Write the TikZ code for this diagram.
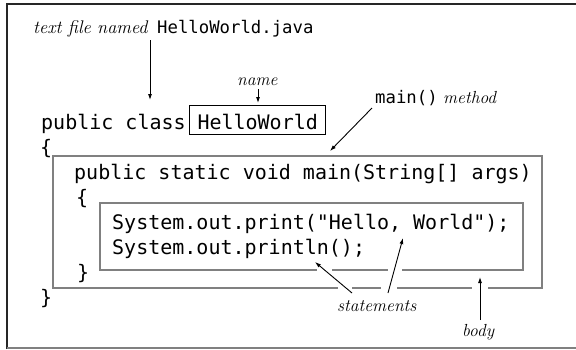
\documentclass[tikz,border=0pt]{standalone}
\usepackage{fontspec}
\setmonofont{DejaVu Sans Mono}
\usetikzlibrary{arrows.meta}
\begin{document}
\begin{tikzpicture}[x=1pt,y=-1pt,
  code/.style={font=\fontsize{20}{24}\selectfont\ttfamily, inner sep=0pt, anchor=base west},
  lbl/.style={font=\fontsize{17.5}{20}\selectfont\itshape, inner sep=0pt, anchor=base west},
  lblmono/.style={font=\fontsize{17.3}{20}\selectfont\ttfamily, inner sep=0pt, anchor=base west},
  arr/.style={-{Latex[length=6pt,width=4pt]}, line width=0.9pt},
  gbox/.style={draw=black!50, line width=1.4pt},
  gapw/.style={fill=white}]
\useasboundingbox (0,0) rectangle (576,349);
% frame
\draw[line width=2pt, black!85] (7,349) -- (7,4) -- (576,4);
\draw[line width=2pt, black!50] (7,348) -- (576,348);
% boxes
\draw[gbox] (53,156) rectangle (542,288);
\draw[gbox] (100,203) rectangle (523,270);
% gaps where arrows cross
\fill[gapw] (317,267) rectangle (332,273);
\fill[gapw] (388,267) rectangle (402,273);
\fill[gapw] (338,285) rectangle (352,291);
\fill[gapw] (381,285) rectangle (397,291);
\fill[gapw] (472,285) rectangle (488,291);
% code
\node[code] (l1) at (41,129) {public class};
\node[code, draw, line width=1pt, inner xsep=8pt, inner ysep=0pt, text height=24pt, text depth=5pt] (hw) at (189,129) {HelloWorld};
\node[code] (l2) at (40,154) {\{};
\node[code] (l3) at (74,179) {public static void main(String[] args)};
\node[code] (l4) at (76,204) {\{};
\node[code] (l5) at (112,229) {System.out.print("Hello, World");};
\node[code] (l6) at (112,254) {System.out.println();};
\node[code] (l7) at (77,279) {\}};
\node[code] (l8) at (40,304) {\}};
% labels
\node[lbl, font=\fontsize{18.3}{22}\selectfont\itshape] (tf) at (33,33) {text file named};
\node[lblmono] (hwj) at (157,33) {HelloWorld.java};
\node[lbl] (nm) at (237,85) {name};
\node[lblmono] (mm) at (375,103) {main()};
\node[lbl] (mth) at (443,103) {method};
\node[lbl] (st) at (337,311) {statements};
\node[lbl] (bd) at (462,336) {body};
% arrow ends
\coordinate (a1s) at (150,40);
\coordinate (a1e) at (150,100);
\coordinate (a2s) at (258,89);
\coordinate (a2e) at (258,103);
\coordinate (a3s) at (372,108);
\coordinate (a3e) at (330,151);
\coordinate (a4s) at (352,293);
\coordinate (a4e) at (315,262);
\coordinate (a5s) at (388,293);
\coordinate (a5e) at (403,238);
\coordinate (a6s) at (480,320);
\coordinate (a6e) at (480,277);
\draw[arr] (a1s) -- (a1e);
\draw[arr] (a2s) -- (a2e);
\draw[arr] (a3s) -- (a3e);
\draw[arr] (a4s) -- (a4e);
\draw[arr] (a5s) -- (a5e);
\draw[arr] (a6s) -- (a6e);
\end{tikzpicture}
\end{document}
